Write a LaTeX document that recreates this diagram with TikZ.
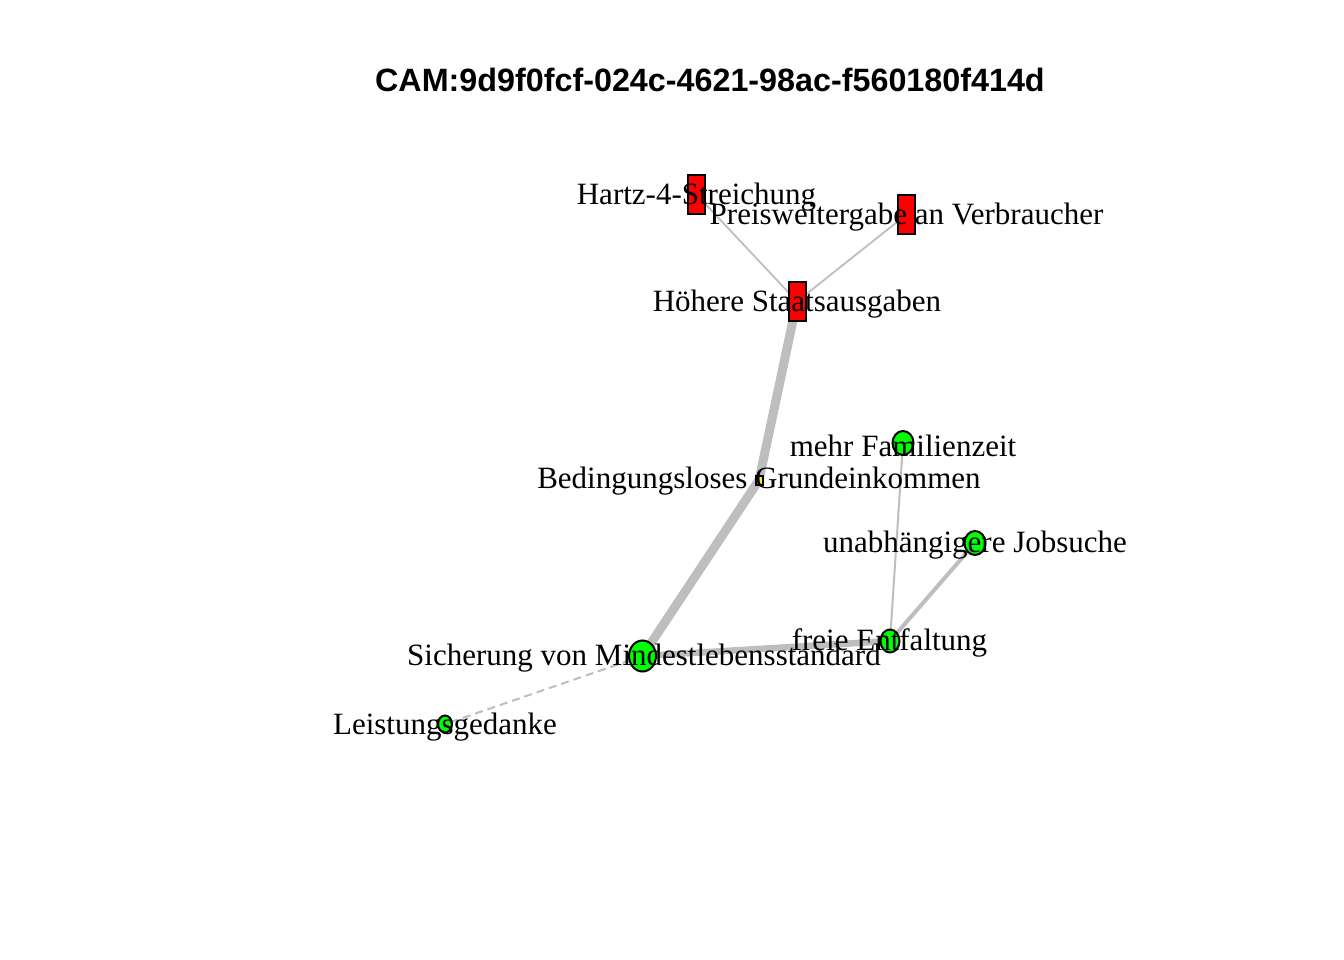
\documentclass[tikz,border=0pt]{standalone}
\usepackage{fontspec}
\setmainfont{Liberation Serif}
\newfontfamily\titlefont{Liberation Sans}
\usetikzlibrary{shapes.geometric}
\tikzset{
  lbl/.style={font=\fontsize{31}{36}\selectfont, text=black, inner sep=0pt, text height=0.68em, text depth=0.22em},
  rectnode/.style={draw=black, line width=2pt, fill=red, minimum width=17pt, minimum height=39pt, inner sep=0pt},
  circnode/.style={draw=black, line width=2pt, fill=green, ellipse, inner sep=0pt},
  yelnode/.style={draw=black, line width=2pt, fill=yellow, minimum width=7pt, minimum height=9pt, inner sep=0pt},
  edge/.style={draw={rgb,255:red,190;green,190;blue,190}, line cap=butt},
}
\begin{document}
\begin{tikzpicture}[x=1pt,y=-1pt]
\useasboundingbox (0,0) rectangle (1344,960);
\fill[white] (0,0) rectangle (1344,960);
% title
\node[font=\titlefont\bfseries\fontsize{32.3}{38}\selectfont, inner sep=0pt] (title) at (710,80) {CAM:9d9f0fcf-024c-4621-98ac-f560180f414d};
% node centres
\coordinate (hartzC) at (696.5,194.5);
\coordinate (preisC) at (906.5,214.5);
\coordinate (hoeherC) at (797,301.5);
\coordinate (bgeC) at (759,480);
\coordinate (familC) at (903,443);
\coordinate (jobC) at (975,543);
\coordinate (freiC) at (890,641);
\coordinate (sichC) at (642.5,656);
\coordinate (leistC) at (445,724);
% edges
\draw[edge, line width=1.8pt] (hartzC) -- (hoeherC);
\draw[edge, line width=1.8pt] (preisC) -- (hoeherC);
\draw[edge, line width=9pt] (hoeherC) -- (bgeC);
\draw[edge, line width=9pt] (bgeC) -- (sichC);
\draw[edge, line width=6.5pt] (sichC) -- (freiC);
\draw[edge, line width=2pt] (freiC) -- (familC);
\draw[edge, line width=4pt] (freiC) -- (jobC);
\draw[edge, line width=2pt, dash pattern=on 8pt off 5pt] (sichC) -- (leistC);
% vertices
\node[rectnode] (hartz) at (hartzC) {};
\node[rectnode] (preis) at (preisC) {};
\node[rectnode] (hoeher) at (hoeherC) {};
\node[yelnode] (bge) at (bgeC) {};
\node[circnode, minimum width=21pt, minimum height=24pt] (famil) at (familC) {};
\node[circnode, minimum width=21pt, minimum height=24pt] (job) at (jobC) {};
\node[circnode, minimum width=19pt, minimum height=23pt] (frei) at (freiC) {};
\node[circnode, minimum width=27pt, minimum height=31pt] (sich) at (sichC) {};
\node[circnode, minimum width=14pt, minimum height=17pt] (leist) at (leistC) {};
% labels
\node[lbl] (hartzL) at (696.5,202) {Hartz-4-Streichung};
\node[lbl] (preisL) at (906.5,222) {Preisweitergabe an Verbraucher};
\node[lbl] (hoeherL) at (797,309) {Höhere Staatsausgaben};
\node[lbl] (bgeL) at (759,486) {Bedingungsloses Grundeinkommen};
\node[lbl] (familL) at (903,454) {mehr Familienzeit};
\node[lbl] (jobL) at (975,550) {unabhängigere Jobsuche};
\node[lbl] (freiL) at (889.5,648) {freie Entfaltung};
\node[lbl] (sichL) at (644,663) {Sicherung von Mindestlebensstandard};
\node[lbl] (leistL) at (445,732) {Leistungsgedanke};
\end{tikzpicture}
\end{document}
